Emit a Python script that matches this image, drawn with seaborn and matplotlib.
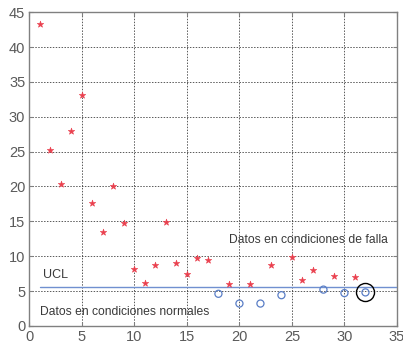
import numpy as np
import pandas as pd
import matplotlib
matplotlib.use("Agg")
import matplotlib.pyplot as plt
import seaborn as sns

# Data
fault_x = [1, 2, 3, 4, 5, 6, 7, 8, 9, 10, 11, 12, 13, 14, 15, 16, 17, 19, 21, 23, 25, 26, 27, 29, 31]
fault_y = [43.3, 25.2, 20.4, 27.9, 33.1, 17.7, 13.5, 20.0, 14.7, 8.1, 6.2, 8.75, 14.9, 9.0, 7.4, 9.7, 9.5,
           6.0, 6.0, 8.75, 9.85, 6.65, 8.0, 7.2, 7.0]
normal_x = [18, 20, 22, 24, 28, 30, 32]
normal_y = [4.6, 3.2, 3.2, 4.4, 5.2, 4.7, 4.8]
ucl_value = 5.55
ucl_span = [1, 35]
highlight_x = [32]
highlight_y = [4.8]
x_ticks = [0, 5, 10, 15, 20, 25, 30, 35]
y_ticks = [0, 5, 10, 15, 20, 25, 30, 35, 40, 45]

sns.set_style("white")
plt.rcParams['font.family'] = ['Liberation Sans', 'DejaVu Sans']

fig = plt.figure(figsize=(4.03, 3.5), dpi=100)
ax = fig.add_axes([0.073, 0.069, 0.912, 0.896])

df_f = pd.DataFrame({"x": fault_x, "y": fault_y})
df_n = pd.DataFrame({"x": normal_x, "y": normal_y})

sns.scatterplot(data=df_f, x="x", y="y", ax=ax, marker="*", s=24, color="#ea3f4d",
                edgecolor="#ea3f4d", linewidth=0.4, zorder=4)
sns.scatterplot(data=df_n, x="x", y="y", ax=ax, marker="o", s=26, facecolor="none",
                edgecolor="#5a7ec6", linewidth=0.9, zorder=4)
sns.lineplot(x=ucl_span, y=[ucl_value, ucl_value], ax=ax, color="#7090d0", linewidth=1.0, zorder=3)
ax.plot(highlight_x, highlight_y, marker="o", markersize=13, markerfacecolor="none",
        markeredgecolor="black", markeredgewidth=1.0, linestyle="none", zorder=5)

ax.set_xlim(0, 35)
ax.set_ylim(0, 45)
ax.set_xticks(x_ticks)
ax.set_yticks(y_ticks)
ax.set_xlabel("")
ax.set_ylabel("")
ax.grid(True, color="#222222", linestyle=(0, (1.5, 1.5)), linewidth=0.7, alpha=0.75)
ax.set_axisbelow(True)
for sp in ax.spines.values():
    sp.set_color("#808080")
    sp.set_linewidth(1.0)
ax.tick_params(direction="in", length=3, color="#808080", labelcolor="#5a5a5a", labelsize=10.5, pad=3,
               top=True, right=True, bottom=True, left=True, labeltop=False, labelright=False)

ax.text(1.3, 6.4, "UCL", fontsize=9, color="#3a3a3a", ha="left", va="bottom")
ax.text(1.05, 2.05, "Datos en condiciones normales", fontsize=8.7, color="#3a3a3a", ha="left", va="center")
ax.text(19.0, 12.3, "Datos en condiciones de falla", fontsize=8.7, color="#3a3a3a", ha="left", va="center")

fig.savefig("out.png", dpi=100)
